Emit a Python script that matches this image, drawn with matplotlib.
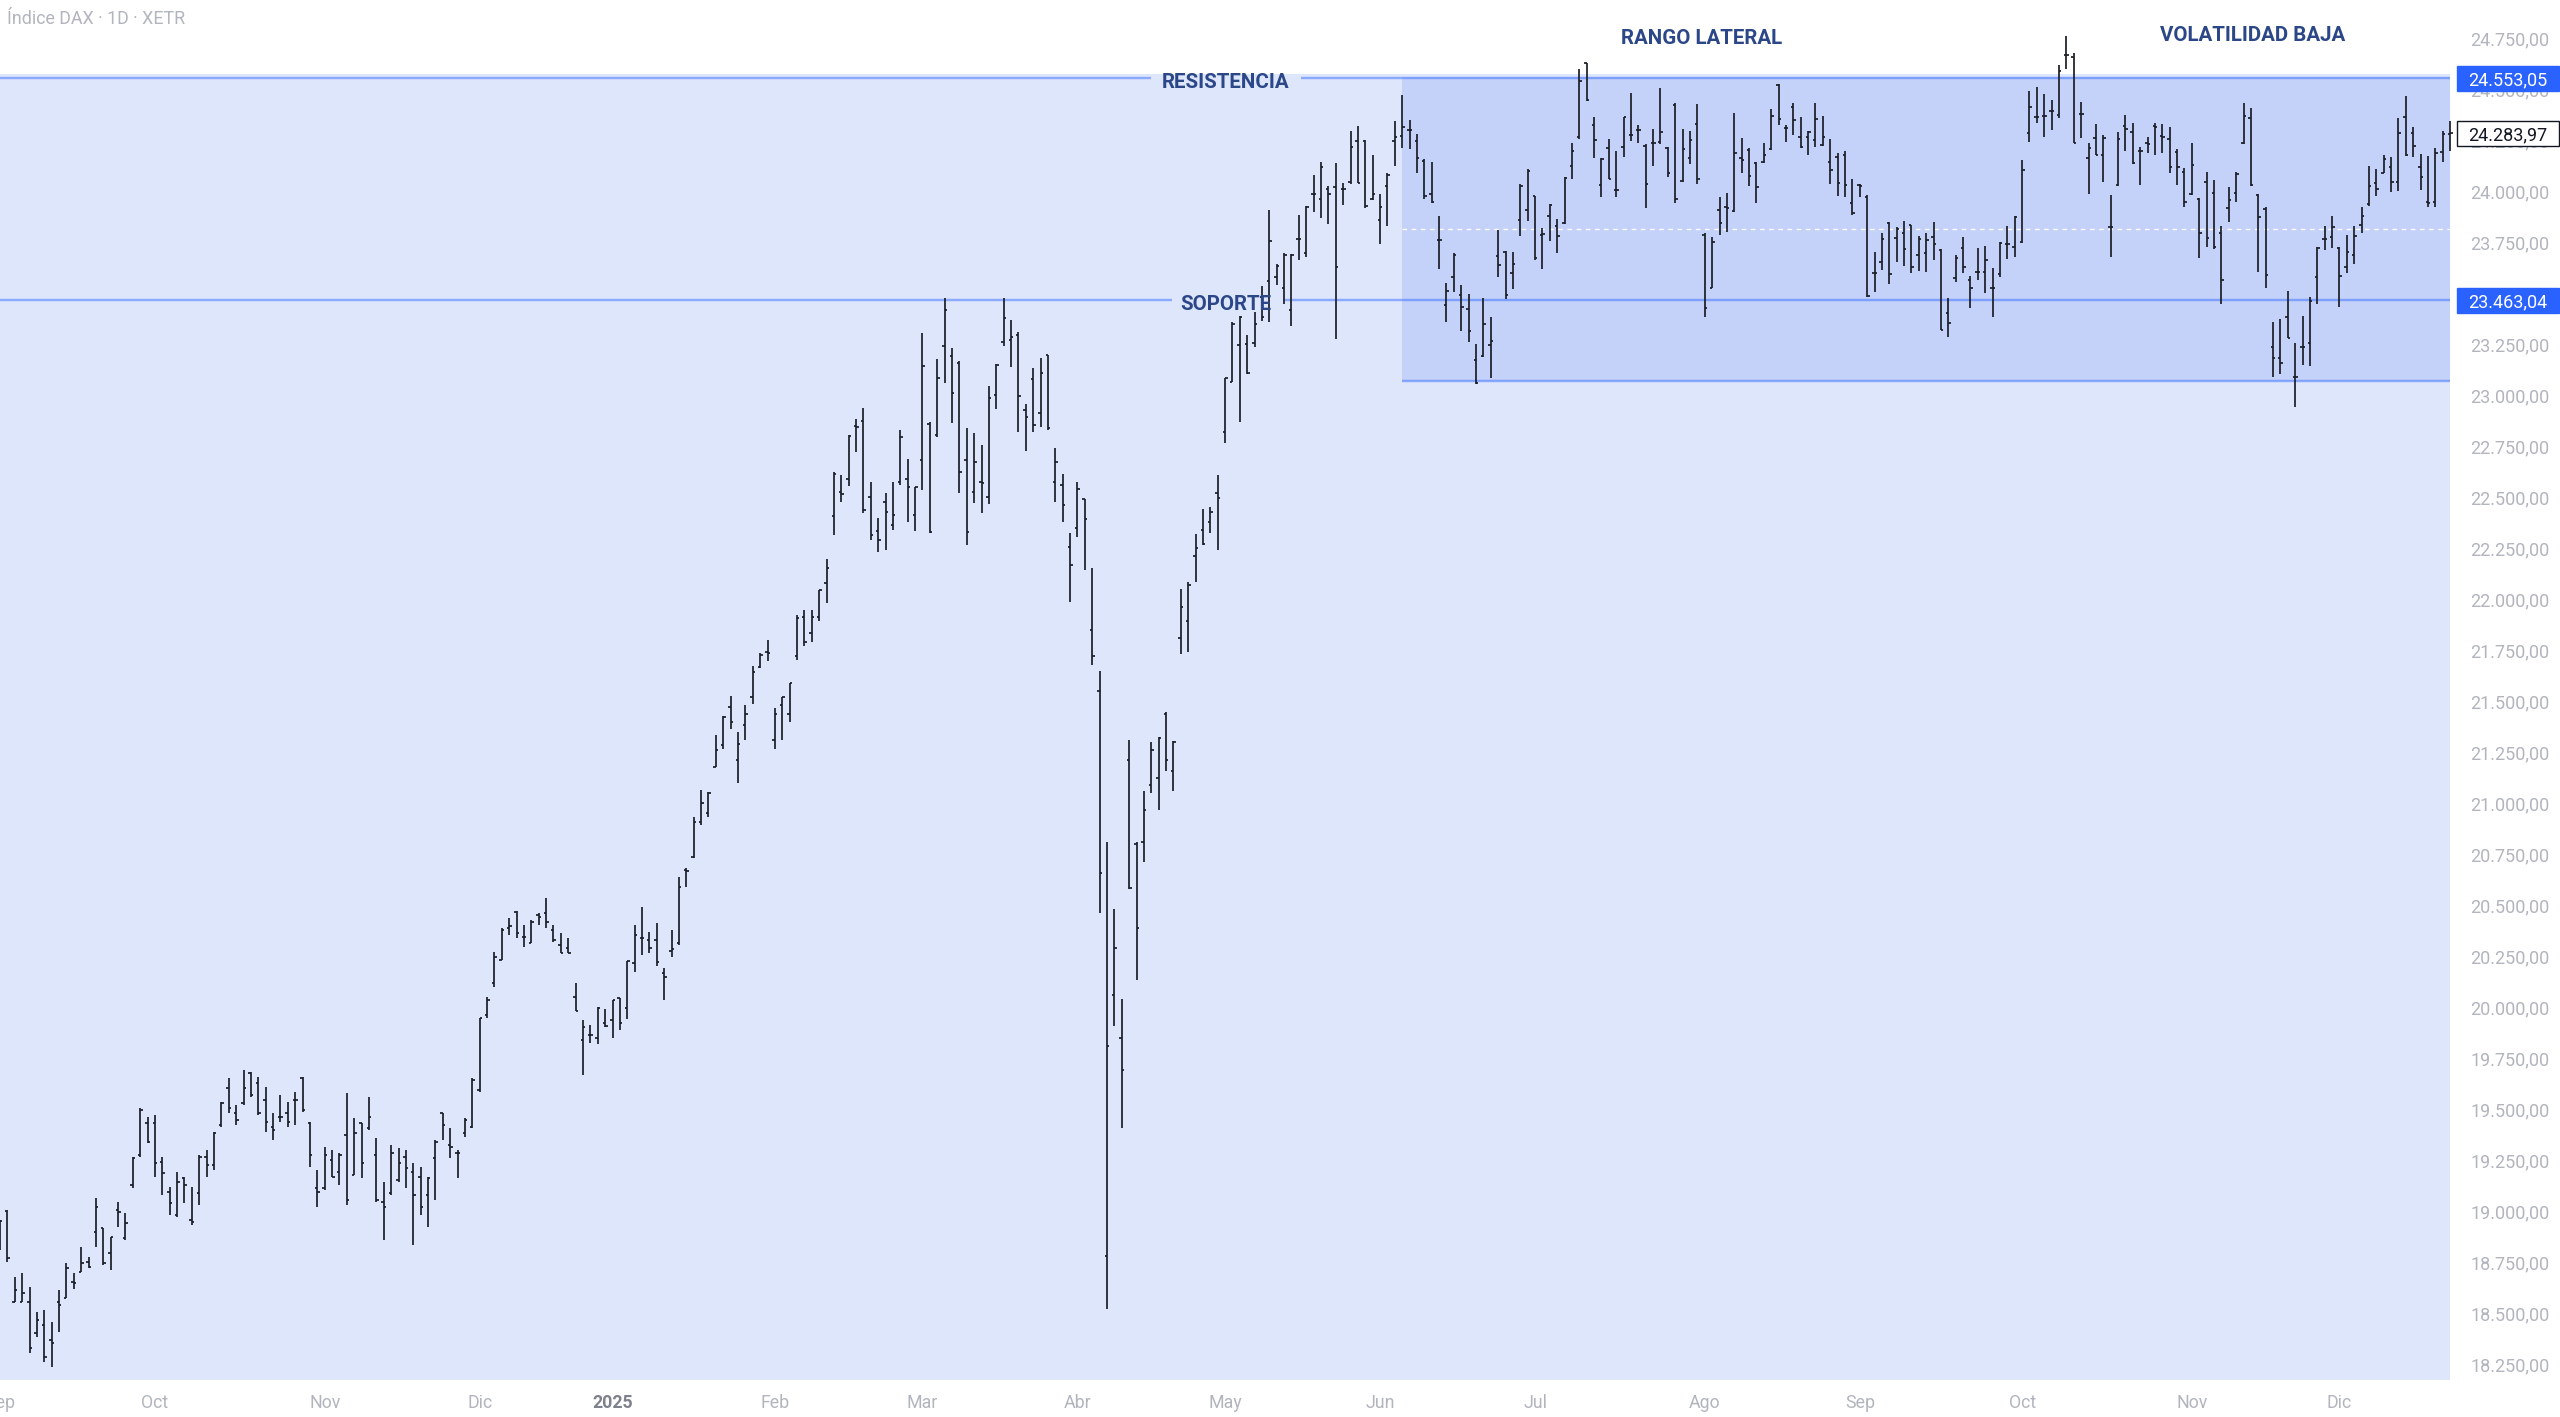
import matplotlib
matplotlib.use("Agg")
import matplotlib.pyplot as plt
from matplotlib.collections import LineCollection
from matplotlib.patches import Rectangle
import matplotlib.transforms as mtransforms

# ---------------- data (daily OHLC, DAX, 2 Sep 2024 .. 22 Dec 2025) ----------------
opens = [
    18830, 19000, 18555, 18555, 18555, 18400, 18441, 18367, 18555, 18571,
    18653, 18702, 18751, 18898, 18915, 18792, 19005, 18866, 19127, 19274,
    19430, 19430, 19242, 19094, 18980, 19160, 18955, 19087, 19266, 19225,
    19421, 19601, 19478, 19527, 19674, 19625, 19544, 19413, 19462, 19478,
    19544, 19650, 19429, 19111, 19111, 19250, 19192, 19372, 19176, 19429,
    19405, 19274, 19045, 19086, 19152, 19266, 19192, 19168, 19078, 19258,
    19478, 19323, 19282, 19380, 19413, 19593, 19961, 20116, 20230, 20386,
    20467, 20345, 20312, 20451, 20462, 20377, 20304, 20287, 20047, 19838,
    19863, 19847, 19923, 19936, 20043, 19993, 20217, 20337, 20328, 20328,
    20168, 20276, 20315, 20672, 20737, 20908, 20950, 21178, 21284, 21469,
    21211, 21382, 21518, 21668, 21738, 21309, 21480, 21436, 21721, 21910,
    21835, 21914, 22077, 22407, 22526, 22590, 22848, 22874, 22502, 22335,
    22473, 22363, 22575, 22587, 22412, 22682, 22858, 22804, 23240, 23191,
    23159, 22682, 22526, 22575, 22499, 23000, 23262, 23267, 23294, 22927,
    23077, 22910, 23196, 22571, 22559, 22257, 22347, 22489, 21848, 21549,
    18777, 20058, 19848, 21213, 20799, 20808, 21087, 21123, 21438, 21159,
    21807, 21894, 22212, 22338, 22377, 22518, 22816, 23063, 23247, 23250,
    23256, 23479, 23557, 23580, 23522, 23417, 23766, 23696, 23983, 23960,
    24012, 24018, 24012, 24045, 24245, 24245, 23960, 23857, 24026, 24245,
    24270, 24297, 24245, 24148, 23983, 23760, 23440, 23580, 23489, 23421,
    23173, 23193, 23243, 23683, 23700, 23599, 23857, 23905, 23973, 23785,
    23877, 23828, 23843, 24123, 24263, 24629, 24323, 24030, 24209, 24005,
    24217, 24274, 24299, 24220, 24237, 24240, 24209, 24421, 24050, 24160,
    24328, 23784, 23523, 23907, 23920, 23903, 24160, 24201, 24139, 24144,
    24204, 24519, 24307, 24413, 24266, 24266, 24250, 24225, 24140, 24168,
    24176, 23943, 24029, 23972, 23596, 23653, 23841, 23768, 23796, 23833,
    23686, 23694, 23776, 23711, 23400, 23572, 23719, 23564, 23604, 23604,
    23523, 23593, 23740, 23724, 23751, 24282, 24364, 24367, 24394, 24372,
    24666, 24658, 24377, 24160, 24258, 24176, 23825, 24029, 24318, 24291,
    24198, 24233, 24318, 24269, 24253, 24193, 24095, 23985, 23959, 24046,
    23992, 23792, 23915, 23992, 24233, 24356, 23980, 23910, 23237, 23180,
    23384, 23090, 23237, 23253, 23580, 23763, 23773, 23720, 23629, 23686,
    23833, 23936, 24041, 24090, 24119, 24046, 24361, 24286, 24116, 23948,
    23948, 24193, 24279,
]
highs = [
    18956, 19005, 18678, 18694, 18629, 18506, 18514, 18457, 18612, 18743,
    18694, 18825, 18776, 19062, 18915, 18874, 19045, 18988, 19266, 19503,
    19462, 19470, 19266, 19119, 19192, 19168, 19119, 19274, 19299, 19389,
    19536, 19650, 19519, 19691, 19683, 19658, 19609, 19478, 19568, 19536,
    19585, 19658, 19438, 19201, 19315, 19299, 19282, 19577, 19454, 19429,
    19560, 19356, 19143, 19323, 19307, 19299, 19233, 19217, 19168, 19348,
    19478, 19405, 19299, 19454, 19650, 19944, 20051, 20271, 20386, 20435,
    20472, 20402, 20426, 20462, 20532, 20402, 20364, 20337, 20116, 19936,
    19912, 20000, 19989, 20034, 20043, 20227, 20402, 20491, 20369, 20413,
    20190, 20377, 20639, 20680, 20933, 21064, 21055, 21333, 21427, 21525,
    21350, 21480, 21672, 21734, 21799, 21464, 21521, 21590, 21922, 21946,
    21946, 22044, 22195, 22620, 22608, 22804, 22881, 22935, 22575, 22396,
    22518, 22575, 22829, 22685, 22551, 23306, 22865, 23175, 23474, 23229,
    23164, 22837, 22812, 22755, 23044, 23152, 23474, 23368, 23311, 22956,
    23131, 23180, 23196, 22739, 22613, 22322, 22575, 22489, 22151, 21648,
    20808, 20478, 20037, 21309, 20808, 21057, 21297, 21324, 21444, 21303,
    22047, 22083, 22317, 22443, 22452, 22608, 23082, 23359, 23386, 23295,
    23406, 23533, 23906, 23644, 23696, 23692, 23882, 23925, 24076, 24142,
    24026, 24138, 24037, 24293, 24316, 24250, 24177, 23983, 24090, 24342,
    24468, 24347, 24278, 24157, 24142, 23876, 23547, 23696, 23541, 23495,
    23250, 23475, 23382, 23809, 23708, 23702, 24032, 24109, 23973, 23818,
    23935, 23863, 24070, 24235, 24596, 24629, 24361, 24160, 24253, 24198,
    24364, 24482, 24323, 24230, 24302, 24503, 24214, 24433, 24302, 24296,
    24426, 23792, 23776, 23972, 23988, 24384, 24258, 24209, 24144, 24237,
    24400, 24524, 24323, 24433, 24361, 24296, 24433, 24367, 24253, 24188,
    24198, 24057, 24034, 23980, 23702, 23796, 23849, 23822, 23854, 23833,
    23779, 23796, 23849, 23714, 23474, 23686, 23776, 23583, 23719, 23730,
    23621, 23751, 23828, 23877, 24152, 24492, 24511, 24475, 24446, 24617,
    24760, 24678, 24438, 24233, 24328, 24274, 23980, 24291, 24372, 24335,
    24214, 24266, 24335, 24328, 24312, 24204, 24111, 24237, 23964, 24095,
    24054, 23828, 24018, 24095, 24433, 24405, 23985, 23920, 23359, 23371,
    23511, 23253, 23387, 23482, 23724, 23828, 23877, 23727, 23784, 23828,
    23923, 24122, 24106, 24176, 24165, 24356, 24465, 24312, 24181, 24171,
    24209, 24296, 24345,
]
lows = [
    18809, 18751, 18555, 18555, 18302, 18384, 18261, 18237, 18408, 18571,
    18620, 18702, 18719, 18825, 18735, 18710, 18923, 18858, 19111, 19266,
    19331, 19168, 19078, 18980, 18972, 19037, 18931, 19029, 19168, 19201,
    19413, 19478, 19421, 19519, 19560, 19470, 19389, 19348, 19438, 19413,
    19421, 19487, 19217, 19021, 19103, 19168, 19127, 19029, 19176, 19160,
    19397, 19045, 18858, 19078, 19144, 19111, 18833, 18980, 18923, 19054,
    19348, 19258, 19160, 19364, 19405, 19585, 19945, 20100, 20230, 20353,
    20337, 20296, 20312, 20402, 20386, 20320, 20263, 20263, 19980, 19667,
    19822, 19819, 19900, 19847, 19887, 19940, 20169, 20255, 20263, 20201,
    20034, 20247, 20304, 20590, 20729, 20892, 20933, 21178, 21263, 21361,
    21096, 21309, 21485, 21660, 21698, 21263, 21309, 21399, 21701, 21770,
    21791, 21894, 21979, 22314, 22473, 22554, 22718, 22423, 22290, 22232,
    22240, 22339, 22559, 22379, 22335, 22535, 22325, 22796, 23057, 22861,
    22518, 22265, 22469, 22420, 22466, 22930, 23240, 23136, 22820, 22723,
    22816, 22845, 22829, 22477, 22379, 21987, 22306, 22142, 21677, 20463,
    18519, 19908, 19407, 20577, 20133, 20709, 21048, 20967, 21159, 21057,
    21729, 21738, 22083, 22263, 22323, 22239, 22766, 23063, 22869, 23101,
    23237, 23363, 23359, 23541, 23444, 23340, 23663, 23677, 23896, 23867,
    23838, 23276, 23929, 24032, 24037, 23915, 23954, 23741, 23828, 24123,
    24212, 24206, 24090, 23960, 23940, 23615, 23359, 23503, 23314, 23262,
    23053, 23185, 23082, 23576, 23470, 23518, 23780, 23851, 23663, 23615,
    23754, 23696, 23838, 24061, 24253, 24443, 24160, 23972, 24057, 23969,
    24168, 24247, 24233, 23915, 24122, 24230, 24067, 23939, 24046, 24132,
    24034, 23381, 23523, 23784, 23800, 23898, 24090, 24024, 23939, 24135,
    24201, 24323, 24242, 24274, 24209, 24176, 24217, 24220, 24034, 23975,
    23972, 23882, 23969, 23482, 23506, 23612, 23544, 23653, 23632, 23600,
    23609, 23604, 23662, 23318, 23286, 23555, 23599, 23425, 23564, 23498,
    23384, 23577, 23665, 23675, 23746, 24242, 24335, 24263, 24299, 24356,
    24596, 24237, 24258, 23985, 24176, 24046, 23678, 24024, 24198, 24132,
    24029, 24188, 24176, 24188, 24090, 24029, 23920, 23980, 23670, 23727,
    23714, 23446, 23849, 23947, 24230, 24024, 23604, 23523, 23086, 23103,
    23278, 22943, 23147, 23142, 23446, 23711, 23719, 23433, 23600, 23642,
    23792, 23926, 23975, 24090, 23996, 24002, 24172, 24165, 24005, 23920,
    23920, 24144, 24198,
]
closes = [
    18952, 18768, 18612, 18596, 18327, 18465, 18286, 18351, 18539, 18719,
    18645, 18743, 18727, 19021, 18743, 18874, 18996, 18939, 19258, 19495,
    19340, 19233, 19184, 19037, 19144, 19127, 18947, 19266, 19225, 19380,
    19527, 19503, 19446, 19601, 19568, 19478, 19438, 19397, 19462, 19438,
    19544, 19495, 19274, 19094, 19274, 19168, 19274, 19054, 19380, 19233,
    19462, 19054, 19021, 19282, 19233, 19209, 19078, 19021, 19160, 19340,
    19421, 19315, 19282, 19446, 19642, 19944, 20034, 20247, 20377, 20397,
    20361, 20345, 20418, 20443, 20418, 20328, 20263, 20263, 19982, 19901,
    19863, 19993, 19907, 20034, 19920, 20227, 20353, 20337, 20288, 20222,
    20145, 20283, 20586, 20668, 20908, 20998, 21050, 21260, 21420, 21399,
    21289, 21435, 21644, 21725, 21734, 21436, 21518, 21587, 21906, 21791,
    21914, 22044, 22151, 22613, 22515, 22799, 22845, 22437, 22314, 22290,
    22428, 22412, 22796, 22551, 22548, 23142, 22330, 23082, 23414, 23008,
    22620, 22330, 22673, 22567, 22984, 23147, 23376, 23283, 22995, 22891,
    22853, 23106, 22837, 22673, 22461, 22167, 22538, 22391, 21721, 20658,
    19809, 20289, 19689, 20583, 20388, 20967, 21258, 21318, 21213, 21297,
    21963, 22068, 22248, 22269, 22428, 22497, 23082, 23347, 23382, 23107,
    23347, 23382, 23754, 23634, 23688, 23688, 23766, 23921, 23983, 24115,
    23987, 23625, 24012, 24216, 24037, 23925, 23987, 23921, 24080, 24264,
    24313, 24297, 24161, 23973, 23948, 23760, 23508, 23688, 23431, 23314,
    23057, 23347, 23266, 23638, 23490, 23644, 24026, 24099, 23669, 23789,
    23929, 23780, 24065, 24196, 24541, 24446, 24250, 24155, 24057, 24005,
    24361, 24274, 24299, 24034, 24237, 24290, 24090, 23959, 24204, 24250,
    24057, 23425, 23751, 23841, 23915, 24184, 24152, 24073, 24018, 24176,
    24367, 24351, 24307, 24348, 24214, 24291, 24351, 24266, 24102, 24041,
    24029, 23894, 24024, 23485, 23596, 23763, 23593, 23812, 23714, 23626,
    23763, 23760, 23740, 23318, 23354, 23670, 23629, 23523, 23604, 23662,
    23523, 23743, 23740, 23871, 24103, 24410, 24364, 24367, 24394, 24590,
    24666, 24237, 24377, 24209, 24176, 24258, 23825, 24253, 24302, 24139,
    24198, 24230, 24315, 24263, 24116, 24116, 23947, 24127, 23796, 23768,
    23724, 23564, 23956, 24083, 24367, 24029, 23874, 23588, 23180, 23158,
    23278, 23090, 23237, 23462, 23719, 23763, 23825, 23583, 23702, 23779,
    23877, 24024, 24008, 24155, 24046, 24282, 24176, 24220, 24070, 23943,
    24188, 24279, 24283.97,
]

month_labels = ["Sep", "Oct", "Nov", "Dic", "2025", "Feb", "Mar", "Abr",
                "May", "Jun", "Jul", "Ago", "Sep", "Oct", "Nov", "Dic"]
month_index = [0, 21, 44, 65, 83, 105, 125, 146, 166, 187, 208, 231, 252, 274, 297, 317]

price_ticks = [18250, 18500, 18750, 19000, 19250, 19500, 19750, 20000, 20250,
               20500, 20750, 21000, 21250, 21500, 21750, 22000, 22250, 22500,
               22750, 23000, 23250, 23500, 23750, 24000, 24250, 24500, 24750]

resistance = 24553.05
support = 23463.04
range_bottom = 23070
last_price = 24283.97
range_start, range_end = 190, 332

title = "Índice DAX · 1D · XETR"

# ---------------- figure ----------------
W, H = 2560, 1417
fig = plt.figure(figsize=(W / 100, H / 100), dpi=100)
fig.patch.set_facecolor("white")

ax_left_px, ax_right_px, ax_top_px, ax_bottom_px = 0, 2458, 0, 1380
ax = fig.add_axes([ax_left_px / W, (H - ax_bottom_px) / H,
                   (ax_right_px - ax_left_px) / W, (ax_bottom_px - ax_top_px) / H])
bar_px = 7.38
ax.set_xlim(0, (ax_right_px - ax_left_px) / bar_px)
ax.set_ylim(18171.5, 24936)
ax.axis("off")

FONT = "Roboto"
NAVY = "#2b4788"
GRID_TXT = "#b2b5be"
LINE_BLUE = (41 / 255, 98 / 255, 255 / 255, 0.45)

ymin, ymax = ax.get_ylim()
data_per_px = (ymax - ymin) / (ax_bottom_px - ax_top_px)
edge_pad = 4 * data_per_px

# background fills
ax.add_patch(Rectangle((-1, ymin), range_end + 1, resistance + edge_pad - ymin,
                       facecolor="#dee6fc", edgecolor="none", zorder=0))
ax.add_patch(Rectangle((range_start, range_bottom), range_end - range_start,
                       resistance + data_per_px - range_bottom,
                       facecolor="#c4d2f9", edgecolor="none", zorder=1))

# lines
lw_line = 1.75
ax.hlines(resistance, 0, 156.0, color=LINE_BLUE, lw=lw_line, zorder=2)
ax.hlines(resistance, 176.3, range_end, color=LINE_BLUE, lw=lw_line, zorder=2)
ax.hlines(support, 0, 158.8, color=LINE_BLUE, lw=lw_line, zorder=2)
ax.hlines(support, 173.9, range_end, color=LINE_BLUE, lw=lw_line, zorder=2)
ax.hlines(range_bottom, range_start, range_end, color=LINE_BLUE, lw=lw_line, zorder=2)
mid = (resistance + range_bottom) / 2
ax.hlines(mid, range_start, range_end, color="white", lw=1.0,
          linestyles=(0, (3.3, 3.3)), zorder=2)

# OHLC bars
segs = []
tick = 0.33
for i, (o, h, l, c) in enumerate(zip(opens, highs, lows, closes)):
    segs.append([(i, l), (i, h)])
    segs.append([(i - tick, o), (i, o)])
    segs.append([(i, c), (i + tick, c)])
ax.add_collection(LineCollection(segs, colors="#1b1e27", linewidths=1.25,
                                 capstyle="butt", zorder=3))

# annotations
ax.text(166.06, 24502.5, "RESISTENCIA", ha="center", va="baseline",
        fontsize=14.8, fontweight="bold", family=FONT, color=NAVY, zorder=4)
ax.text(166.1, 23416.7, "SOPORTE", ha="center", va="baseline",
        fontsize=14.8, fontweight="bold", family=FONT, color=NAVY, zorder=4)
ax.text(230.6, 24720.6, "RANGO LATERAL", ha="center", va="baseline",
        fontsize=14.8, fontweight="bold", family=FONT, color=NAVY, zorder=4,
        clip_on=False)
ax.text(305.3, 24735, "VOLATILIDAD BAJA", ha="center", va="baseline",
        fontsize=14.8, fontweight="bold", family=FONT, color=NAVY, zorder=4,
        clip_on=False)

# title
fig.text(7 / W, (H - 24.3) / H, title, ha="left", va="baseline",
         fontsize=12.9, family=FONT, color=GRID_TXT)


def fmt(v):
    s = f"{v:,.2f}"
    return s.replace(",", "X").replace(".", ",").replace("X", ".")


# price scale
ytr = mtransforms.blended_transform_factory(fig.transFigure, ax.transData)
for v in price_ticks:
    ax.text(2510 / W, v, fmt(v), transform=ytr, ha="center", va="center_baseline",
            fontsize=13, family=FONT, color=GRID_TXT, clip_on=False, zorder=5)

box_h = 25 * data_per_px
box_x0, box_w = 2457 / W, 102 / W
for v, fc, ec, tc in [(resistance, "#2962ff", "#2962ff", "white"),
                      (support, "#2962ff", "#2962ff", "white"),
                      (last_price, "white", "#131722", "#131722")]:
    ax.add_patch(Rectangle((box_x0, v - box_h / 2), box_w, box_h, transform=ytr,
                           facecolor=fc, edgecolor=ec, lw=1.0, clip_on=False, zorder=6))
    ax.text(2508 / W, v, fmt(v), transform=ytr, ha="center", va="center_baseline",
            fontsize=13, family=FONT, color=tc, clip_on=False, zorder=7)

# time scale
xtr = mtransforms.blended_transform_factory(ax.transData, fig.transFigure)
for idx, lab in zip(month_index, month_labels):
    bold = lab.isdigit()
    ax.text(idx, (H - 1401) / H, lab, transform=xtr, ha="center",
            va="center_baseline", fontsize=12.8, family=FONT,
            fontweight="bold" if bold else "normal",
            color="#7e818b" if bold else GRID_TXT, clip_on=False, zorder=5)

fig.savefig("out.png", dpi=100, facecolor="white")
